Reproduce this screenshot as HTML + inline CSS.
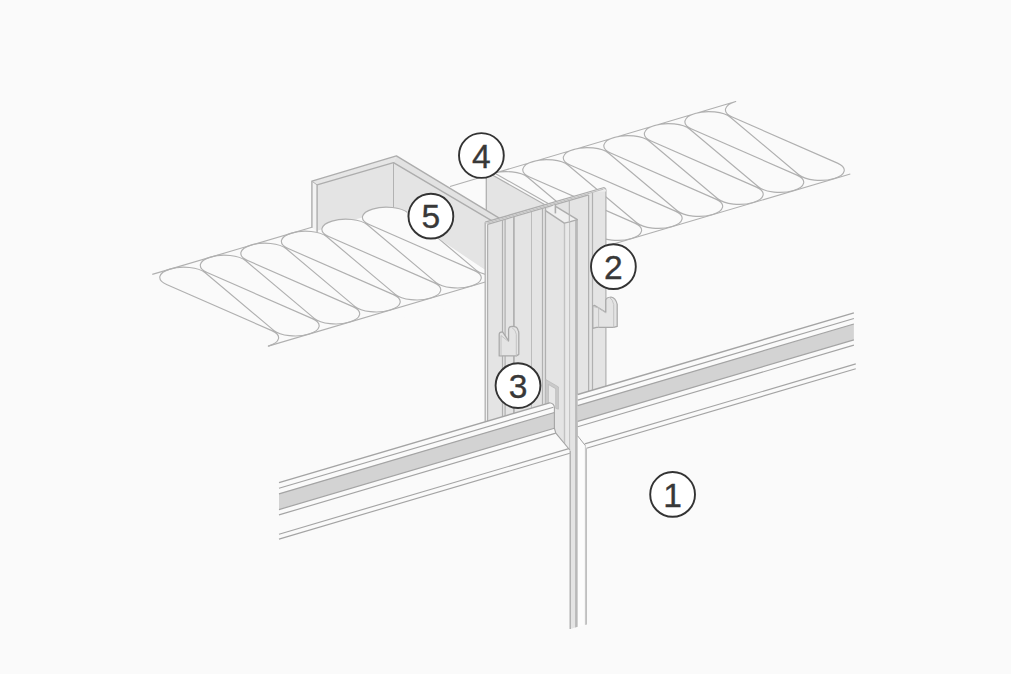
<!DOCTYPE html>
<html lang="en"><head><meta charset="utf-8"><title>Detail</title>
<style>html,body{margin:0;padding:0;background:#fafafa;}svg{display:block;}</style></head>
<body>
<svg width="1011" height="674" viewBox="0 0 1011 674">
<rect width="1011" height="674" fill="#fafafa"/>
<line x1="450" y1="186.45" x2="497.81" y2="172.32" stroke="#b0b0b0" stroke-width="1.15" />
<polygon points="486.3,175.72 491.1,174.3 544.99,204.75 499.22,218.11 486.3,210.29" fill="#e4e4e4" stroke="none" stroke-width="1.1" stroke-linejoin="round" />
<line x1="486.3" y1="175.72" x2="486.3" y2="210.29" stroke="#b0b0b0" stroke-width="1.3" />
<line x1="491.1" y1="174.3" x2="544.99" y2="204.75" stroke="#b0b0b0" stroke-width="1.15" />
<line x1="494.81" y1="173.2" x2="548.59" y2="203.69" stroke="#b0b0b0" stroke-width="1.15" />
<clipPath id="cu"><polygon points="494.81,173.2 548.59,203.69 548.59,400 900,400 900,50 494.81,50"/></clipPath>
<g clip-path="url(#cu)">
<path d="M553.77 247.1 L448.49 200.95 A24 10.2 0 1 1 487.14 189.25 L555.65 246.8 A24 10.2 0 1 0 594.3 235.1 L489.02 188.95 A24 10.2 0 1 1 527.67 177.25 L596.18 234.8 A24 10.2 0 1 0 634.83 223.1 L529.55 176.95 A24 10.2 0 1 1 568.2 165.25 L636.71 222.8 A24 10.2 0 1 0 675.36 211.1 L570.08 164.95 A24 10.2 0 1 1 608.73 153.25 L677.24 210.8 A24 10.2 0 1 0 715.89 199.1 L610.61 152.95 A24 10.2 0 1 1 649.26 141.25 L717.77 198.8 A24 10.2 0 1 0 756.42 187.1 L651.14 140.95 A24 10.2 0 1 1 689.79 129.25 L758.3 186.8 A24 10.2 0 1 0 796.95 175.1 L691.67 128.95 A24 10.2 0 1 1 730.32 117.25 L798.83 174.8 A24 10.2 0 1 0 837.48 163.1 L732.2 116.95 A24 10.2 0 0 1 735.73 101.48 L489.81 174.68" fill="none" stroke="#b0b0b0" stroke-width="1.15" stroke-linejoin="round" stroke-linecap="round" />
<line x1="520" y1="271.6" x2="850.3" y2="174" stroke="#b0b0b0" stroke-width="1.15" />
</g>
<polygon points="317.1,184.9 393.5,162.6 393.5,208.3 317.1,230.8" fill="#e4e4e4" stroke="none" stroke-width="1.1" stroke-linejoin="round" />
<polygon points="393.5,162.6 491.17,220.46 487.5,230 487.5,271.5 393.5,208.3" fill="#e4e4e4" stroke="none" stroke-width="1.1" stroke-linejoin="round" />
<polygon points="311.9,181.2 396.4,155.9 393.5,162.6 317.1,184.9" fill="#e6e6e6" stroke="none" stroke-width="1.1" stroke-linejoin="round" />
<polygon points="396.4,155.9 499.22,218.11 491.17,220.46 393.5,162.6" fill="#e2e2e2" stroke="none" stroke-width="1.1" stroke-linejoin="round" />
<polygon points="311.9,181.2 317.1,184.9 317.1,231.6 311.9,227.4" fill="#f3f3f3" stroke="none" stroke-width="1.1" stroke-linejoin="round" />
<polyline points="311.9,227.4 311.9,181.2 396.4,155.9 499.22,218.11" fill="none" stroke="#adadad" stroke-width="1.4" stroke-linejoin="round" stroke-linecap="round" />
<polyline points="317.1,231.6 317.1,184.9 393.5,162.6 491.17,220.46" fill="none" stroke="#adadad" stroke-width="1.4" stroke-linejoin="round" stroke-linecap="round" />
<line x1="311.9" y1="181.2" x2="317.1" y2="184.9" stroke="#b2b2b2" stroke-width="1.0" />
<line x1="393.5" y1="162.6" x2="393.5" y2="208.6" stroke="#b2b2b2" stroke-width="1.0" />
<clipPath id="cl"><polygon points="0,0 407,0 407,217.1 485.3,269.7 485.3,674 0,674"/></clipPath>
<g clip-path="url(#cl)">
<polygon points="317.7,237.2 393.5,213.13 487.5,271.5 487.5,300 300,340" fill="#fafafa" stroke="none" stroke-width="1.1" stroke-linejoin="round" />
<ellipse cx="305.39" cy="241.4" rx="24" ry="10.2" fill="#fafafa"/>
<ellipse cx="345.92" cy="229.4" rx="24" ry="10.2" fill="#fafafa"/>
<ellipse cx="386.45" cy="217.4" rx="24" ry="10.2" fill="#fafafa"/>
<path d="M268.32 346.12 A24 10.2 0 0 0 271.85 330.65 L166.57 284.5 A24 10.2 0 1 1 205.22 272.8 L273.73 330.35 A24 10.2 0 1 0 312.38 318.65 L207.1 272.5 A24 10.2 0 1 1 245.75 260.8 L314.26 318.35 A24 10.2 0 1 0 352.91 306.65 L247.63 260.5 A24 10.2 0 1 1 286.28 248.8 L354.79 306.35 A24 10.2 0 1 0 393.44 294.65 L288.16 248.5 A24 10.2 0 1 1 326.81 236.8 L395.32 294.35 A24 10.2 0 1 0 433.97 282.65 L328.69 236.5 A24 10.2 0 1 1 367.34 224.8 L435.85 282.35 A24 10.2 0 1 0 474.5 270.65 L369.22 224.5 A24 10.2 0 1 1 407.87 212.8 L476.38 270.35 A24 10.2 0 1 0 515.03 258.65" fill="none" stroke="#b0b0b0" stroke-width="1.15" stroke-linejoin="round" stroke-linecap="round" />
</g>
<line x1="152.3" y1="274.4" x2="311.9" y2="227.24" stroke="#b0b0b0" stroke-width="1.15" />
<line x1="268.32" y1="346.12" x2="485.3" y2="282.01" stroke="#b0b0b0" stroke-width="1.15" />
<polygon points="485.2,222.2 604.1,187.5 605.9,189.2 605.9,386.17 485.2,421.81" fill="#e4e4e4" stroke="none" stroke-width="1.1" stroke-linejoin="round" />
<polygon points="485.2,222.2 487.6,224.1 487.6,421.1 485.2,421.81" fill="#efefef" stroke="none" stroke-width="1.1" stroke-linejoin="round" />
<line x1="485.2" y1="222.2" x2="485.2" y2="421.81" stroke="#b0b0b0" stroke-width="1.3" />
<line x1="487.6" y1="222.9" x2="487.6" y2="421.1" stroke="#b0b0b0" stroke-width="1.25" />
<line x1="502.5" y1="219.75" x2="502.5" y2="416.7" stroke="#b0b0b0" stroke-width="1.25" />
<line x1="505.1" y1="218.99" x2="505.1" y2="415.93" stroke="#b0b0b0" stroke-width="1.25" />
<line x1="513.9" y1="216.42" x2="513.9" y2="413.33" stroke="#b0b0b0" stroke-width="1.7" />
<line x1="531.5" y1="211.29" x2="531.5" y2="408.14" stroke="#bcbcbc" stroke-width="1.0" />
<line x1="542.5" y1="208.08" x2="542.5" y2="404.89" stroke="#b0b0b0" stroke-width="1.25" />
<line x1="545.5" y1="207.2" x2="545.5" y2="404" stroke="#b0b0b0" stroke-width="1.25" />
<line x1="588.6" y1="194.62" x2="588.6" y2="391.28" stroke="#b0b0b0" stroke-width="1.25" />
<line x1="592.5" y1="192.29" x2="592.5" y2="390.12" stroke="#b0b0b0" stroke-width="1.25" />
<line x1="605.9" y1="189.2" x2="605.9" y2="386.17" stroke="#b0b0b0" stroke-width="1.2" />
<polygon points="485.2,222.2 604.1,187.5 605.9,189.2 605.9,191.6 592.5,192.34 588.6,194.92 487.6,224.4" fill="#eeeeee" stroke="none" stroke-width="1.1" stroke-linejoin="round" />
<line x1="485.2" y1="222.2" x2="604.1" y2="187.5" stroke="#adadad" stroke-width="1.3" />
<line x1="604.1" y1="187.5" x2="605.9" y2="189.2" stroke="#b2b2b2" stroke-width="1.2" />
<line x1="486.5" y1="223.27" x2="603.5" y2="189.13" stroke="#bdbdbd" stroke-width="1.0" />
<line x1="487.6" y1="224.4" x2="588.6" y2="194.92" stroke="#adadad" stroke-width="1.2" />
<polygon points="545.5,210.6 564.3,223.1 564.3,460 545.5,460" fill="#e4e4e4" stroke="none" stroke-width="1.1" stroke-linejoin="round" />
<polygon points="545.5,210.6 555.5,204.28 556,206.6 577.4,219.6 564.3,223.1" fill="#f0f0f0" stroke="none" stroke-width="1.1" stroke-linejoin="round" />
<polygon points="564.3,223.1 569.6,221.9 569.6,629 564.3,629" fill="#e9e9e9" stroke="none" stroke-width="1.1" stroke-linejoin="round" />
<polygon points="569.6,221.9 577.4,219.6 577.6,626.7 570.3,628.9 569.6,628.9" fill="#e4e4e4" stroke="none" stroke-width="1.1" stroke-linejoin="round" />
<polygon points="575.1,220.3 577.9,219.5 577.9,626.7 575.1,627.5" fill="#b9b9b9" stroke="none" stroke-width="1.1" stroke-linejoin="round" />
<line x1="564.5" y1="223.1" x2="564.5" y2="450" stroke="#c2c2c2" stroke-width="1.4" />
<line x1="569.6" y1="221.9" x2="569.6" y2="629" stroke="#c0c0c0" stroke-width="1.0" />
<polyline points="545.5,210.6 564.3,223.1 569.6,221.9 577.4,219.6" fill="none" stroke="#adadad" stroke-width="1.4" stroke-linejoin="round" stroke-linecap="round" />
<line x1="556" y1="206.6" x2="577.4" y2="219.6" stroke="#adadad" stroke-width="1.5" />
<line x1="545.5" y1="210.6" x2="545.5" y2="404" stroke="#b0b0b0" stroke-width="1.25" />
<line x1="555.4" y1="203.91" x2="555.4" y2="213.4" stroke="#adadad" stroke-width="1.6" />
<line x1="569.3" y1="200.26" x2="569.3" y2="221.6" stroke="#b4b4b4" stroke-width="1.1" />
<path d="M499.2 355.9 L499.2 334.6 Q499.2 331.9 502.6 331.9 L508.6 340.9 L508.6 329.6 Q508.6 326.4 512.2 326.4 Q517.5 326.4 518 330.2 Q518.8 331.2 518.8 333 L518.8 354.4 L516.4 355.9 Z" fill="#e4e4e4" stroke="#a9a9a9" stroke-width="1.25" stroke-linejoin="round" stroke-linecap="round" />
<polyline points="501,355.9 501,335.6 508.6,341.6" fill="none" stroke="#c0c0c0" stroke-width="0.9" stroke-linejoin="round" stroke-linecap="round" />
<path d="M516.3 355.9 L516.3 334.2 Q516 330.2 511.9 327.4" fill="none" stroke="#c0c0c0" stroke-width="0.9" stroke-linejoin="round" stroke-linecap="round" />
<path d="M592.8 328.4 L592.8 307.2 Q592.8 305.6 594.4 305.4 L605.8 312.2 L605.8 300 Q606.4 297.4 611 297 Q615.6 297.6 617.2 304.4 L617.2 326.4 L613.6 327.3 L596.6 327.3 Z" fill="#e4e4e4" stroke="#a9a9a9" stroke-width="1.25" stroke-linejoin="round" stroke-linecap="round" />
<path d="M598.6 327.3 L598.6 307.8 L605.8 312.9 M593.4 306.6 L598.6 307.8" fill="none" stroke="#c0c0c0" stroke-width="0.9" stroke-linejoin="round" stroke-linecap="round" />
<path d="M613.7 327.3 L613.7 304.4 Q612.8 299.6 609.6 297.4" fill="none" stroke="#c0c0c0" stroke-width="0.9" stroke-linejoin="round" stroke-linecap="round" />
<polygon points="548.5,404.5 548.5,384.6 555.6,388.6 555.6,408.3" fill="#e8e8e8" stroke="none" stroke-width="1.1" stroke-linejoin="round" />
<polygon points="545.6,404.3 545.6,379.4 558.4,386.9 558.4,409.2 555.7,408.3 555.7,388.7 548.4,384.5 548.4,404.6" fill="#cacaca" stroke="#b6b6b6" stroke-width="0.7" stroke-linejoin="round" />
<polygon points="279,482.7 549.6,402.79 553,404.39 554.4,407.39 554.4,428.27 555.8,433.16 569.8,450 569.8,640 279,640" fill="#fafafa" stroke="none" stroke-width="1.1" stroke-linejoin="round" />
<polygon points="577.7,394.49 853.9,312.93 860,640 585.1,640 585.1,445.3 578,436.3" fill="#fafafa" stroke="none" stroke-width="1.1" stroke-linejoin="round" />
<polygon points="577.7,436 585.1,445.3 585.1,624.9 577.7,626.9" fill="#fcfcfc" stroke="none" stroke-width="1.1" stroke-linejoin="round" />
<polygon points="279,493.8 554.4,412.47 554.4,428.27 279,509.6" fill="#d3d3d3" stroke="none" stroke-width="1.1" stroke-linejoin="round" />
<polygon points="577.7,405.59 853.9,324.03 853.9,339.83 577.7,421.39" fill="#d3d3d3" stroke="none" stroke-width="1.1" stroke-linejoin="round" />
<line x1="279" y1="482.7" x2="549.6" y2="402.79" stroke="#a4a4a4" stroke-width="1.35" />
<path d="M549.6 402.79 Q554.4 403.59 554.4 407.79 L554.4 428.27 L555.8 433.16 L569.8 450" fill="none" stroke="#a4a4a4" stroke-width="1.1" stroke-linejoin="round" stroke-linecap="round" />
<line x1="279" y1="488.3" x2="553.4" y2="407.27" stroke="#a4a4a4" stroke-width="1.15" />
<line x1="279" y1="493.8" x2="554.4" y2="412.47" stroke="#a4a4a4" stroke-width="1.2" />
<line x1="279" y1="509.6" x2="554.4" y2="428.27" stroke="#a4a4a4" stroke-width="1.2" />
<line x1="279" y1="514.9" x2="555.8" y2="433.16" stroke="#a4a4a4" stroke-width="1.15" />
<line x1="279" y1="534.2" x2="568.8" y2="448.62" stroke="#a4a4a4" stroke-width="1.15" />
<line x1="279" y1="539.1" x2="569.8" y2="453.23" stroke="#a4a4a4" stroke-width="1.15" />
<line x1="577.7" y1="394.49" x2="853.9" y2="312.93" stroke="#a4a4a4" stroke-width="1.35" />
<line x1="577.7" y1="400.09" x2="853.9" y2="318.53" stroke="#a4a4a4" stroke-width="1.15" />
<line x1="577.7" y1="405.59" x2="853.9" y2="324.03" stroke="#a4a4a4" stroke-width="1.2" />
<line x1="577.7" y1="421.39" x2="853.9" y2="339.83" stroke="#a4a4a4" stroke-width="1.2" />
<line x1="577.7" y1="426.69" x2="853.9" y2="345.13" stroke="#a4a4a4" stroke-width="1.15" />
<line x1="584.8" y1="443.9" x2="855.8" y2="363.87" stroke="#a4a4a4" stroke-width="1.15" />
<line x1="586.5" y1="448.3" x2="855.8" y2="368.77" stroke="#a4a4a4" stroke-width="1.15" />
<polyline points="578,436.3 585.1,445.3" fill="none" stroke="#a4a4a4" stroke-width="1.0" stroke-linejoin="round" stroke-linecap="round" />
<line x1="585.4" y1="445.3" x2="585.4" y2="624.9" stroke="#c0c0c0" stroke-width="0.8" />
<line x1="586.3" y1="448.35" x2="586.3" y2="624.6" stroke="#a8a8a8" stroke-width="0.9" />
<line x1="570.2" y1="451" x2="570.2" y2="628.9" stroke="#a4a4a4" stroke-width="1.1" />
<circle cx="672.6" cy="494.4" r="22.4" fill="#ffffff" stroke="#333333" stroke-width="1.9"/>
<text x="672.6" y="506.6" font-family="Liberation Sans, Arial, sans-serif" font-size="33.6" fill="#383838" stroke="#383838" stroke-width="0.35" text-anchor="middle">1</text>
<circle cx="613.4" cy="266.65" r="22.4" fill="#ffffff" stroke="#333333" stroke-width="1.9"/>
<text x="613.4" y="278.85" font-family="Liberation Sans, Arial, sans-serif" font-size="33.6" fill="#383838" stroke="#383838" stroke-width="0.35" text-anchor="middle">2</text>
<circle cx="518" cy="385.6" r="22.4" fill="#ffffff" stroke="#333333" stroke-width="1.9"/>
<text x="518" y="397.8" font-family="Liberation Sans, Arial, sans-serif" font-size="33.6" fill="#383838" stroke="#383838" stroke-width="0.35" text-anchor="middle">3</text>
<circle cx="481.4" cy="155.5" r="22.4" fill="#ffffff" stroke="#333333" stroke-width="1.9"/>
<text x="481.4" y="167.7" font-family="Liberation Sans, Arial, sans-serif" font-size="33.6" fill="#383838" stroke="#383838" stroke-width="0.35" text-anchor="middle">4</text>
<circle cx="430.9" cy="216.15" r="22.4" fill="#ffffff" stroke="#333333" stroke-width="1.9"/>
<text x="430.9" y="228.35" font-family="Liberation Sans, Arial, sans-serif" font-size="33.6" fill="#383838" stroke="#383838" stroke-width="0.35" text-anchor="middle">5</text>
</svg>
</body></html>
